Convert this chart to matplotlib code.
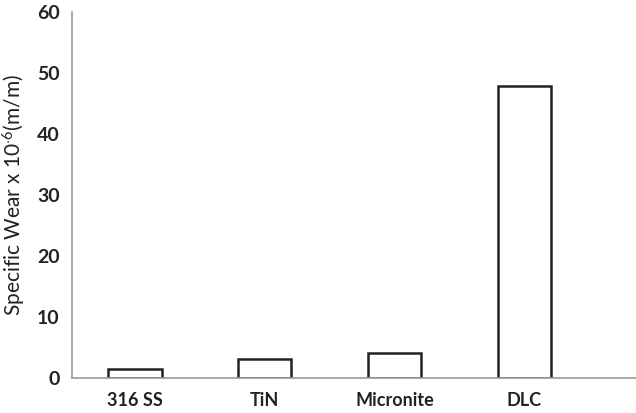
import matplotlib
matplotlib.use('Agg')
import matplotlib.pyplot as plt

# data
materials = ['316 SS', 'TiN', 'Micronite', 'DLC']
wear = [1.4, 3.1, 4.1, 47.9]
yticks = [0, 10, 20, 30, 40, 50, 60]

plt.rcParams['font.family'] = ['Lato', 'DejaVu Sans']
plt.rcParams['mathtext.fontset'] = 'custom'
plt.rcParams['mathtext.rm'] = 'Lato'
plt.rcParams['mathtext.it'] = 'Lato'

fig = plt.figure(figsize=(6.36, 4.13), dpi=100)
ax = fig.add_axes([72/636, 1-378/413, 1-72/636, (378-12)/413])

x = range(len(materials))
ax.bar(x, wear, width=0.41, color='white', edgecolor='#222222', linewidth=1.8)

ax.set_xlim(-0.486, 3.86)
ax.set_ylim(0, 60)
ax.set_yticks(yticks)
ax.set_xticks(list(x))
ax.set_xticklabels(materials, fontsize=13, fontweight='bold', color='#222222')
ax.set_yticklabels([str(v) for v in yticks], fontsize=14, fontweight='bold', color='#222222')
ax.tick_params(length=0, pad=9)
ax.tick_params(axis='x', pad=10)

ax.set_ylabel(r'Specific Wear x 10$^{\cdot6}$(m/m)', fontsize=15, color='#222222', labelpad=6)

for s in ['top', 'right']:
    ax.spines[s].set_visible(False)
for s in ['left', 'bottom']:
    ax.spines[s].set_color('#9a9a9a')
    ax.spines[s].set_linewidth(1.2)

fig.savefig('out.png', dpi=100)
